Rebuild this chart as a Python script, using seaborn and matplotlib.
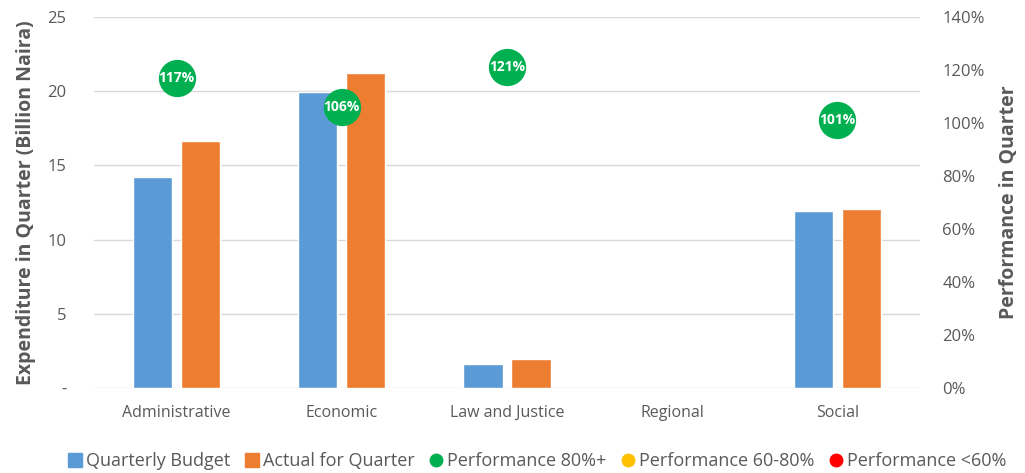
import numpy as np
import pandas as pd
import matplotlib
matplotlib.use("Agg")
import matplotlib.pyplot as plt
import seaborn as sns
from matplotlib.lines import Line2D
from matplotlib.ticker import FuncFormatter

# ── Data ─────────────────────────────────────────────────────
categories = ["Administrative", "Economic", "Law and Justice", "Regional", "Social"]
budget     = [14.2, 19.95, 1.6, 0.0, 11.95]
actual     = [16.65, 21.25, 1.95, 0.0, 12.05]
perf       = [117, 106, 121, np.nan, 101]   # % performance in quarter

BLUE, ORANGE = "#5b9bd5", "#ed7d31"
GREEN, AMBER, RED = "#00b050", "#ffc000", "#ff0000"
GREY = "#595959"

df = pd.DataFrame({
    "Category": categories * 2,
    "Series":   ["Quarterly Budget"] * len(categories) + ["Actual for Quarter"] * len(categories),
    "Value":    budget + actual,
})

sns.set_theme(style="white")
plt.rcParams["font.family"] = ["Open Sans", "DejaVu Sans"]

fig = plt.figure(figsize=(10.25, 4.73), dpi=100)
ax = fig.add_axes([94/1025, 1 - 388/473, (920-94)/1025, (388-17)/473])

sns.barplot(data=df, x="Category", y="Value", hue="Series",
            palette=[BLUE, ORANGE], width=0.58, gap=0.18,
            ax=ax, legend=False, saturation=1)

ax.set_ylim(0, 25)
ax.set_yticks([0, 5, 10, 15, 20, 25])
ax.yaxis.set_major_formatter(FuncFormatter(lambda v, _: "-" if v == 0 else f"{v:.0f}"))
ax.grid(axis="y", color="#d9d9d9", lw=1)
ax.set_axisbelow(True)
ax.set_xlim(-0.5, len(categories) - 0.5)
ax.set_xlabel("")
ax.set_ylabel("Expenditure in Quarter (Billion Naira)", fontsize=14,
              fontweight="bold", color=GREY, labelpad=8)
ax.tick_params(axis="y", colors=GREY, labelsize=12, length=0, pad=20)
ax.tick_params(axis="x", colors=GREY, labelsize=11.5, length=0, pad=12)
for s in ax.spines.values():
    s.set_visible(False)

# ── Performance markers on secondary axis ────────────────────
ax2 = ax.twinx()
ax2.set_ylim(0, 140)
ax2.set_yticks(range(0, 141, 20))
ax2.yaxis.set_major_formatter(FuncFormatter(lambda v, _: f"{v:.0f}%"))
ax2.tick_params(axis="y", colors=GREY, labelsize=12, length=0, pad=16)
ax2.set_ylabel("Performance in Quarter", fontsize=14, fontweight="bold",
               color=GREY, labelpad=10)
for s in ax2.spines.values():
    s.set_visible(False)

def perf_colour(p):
    return GREEN if p >= 80 else (AMBER if p >= 60 else RED)

for i, p in enumerate(perf):
    if np.isnan(p):
        continue
    ax2.scatter(i, p, s=720, color=perf_colour(p), zorder=5, linewidths=0)
    ax2.text(i, p, f"{p:.0f}%", ha="center", va="center", color="white",
             fontsize=10, fontweight="bold", zorder=6)

# ── Legend ───────────────────────────────────────────────────
handles = [
    Line2D([], [], marker="s", ls="", color=BLUE, markersize=10),
    Line2D([], [], marker="s", ls="", color=ORANGE, markersize=10),
    Line2D([], [], marker="o", ls="", color=GREEN, markersize=9),
    Line2D([], [], marker="o", ls="", color=AMBER, markersize=9),
    Line2D([], [], marker="o", ls="", color=RED, markersize=9),
]
labels = ["Quarterly Budget", "Actual for Quarter", "Performance 80%+",
          "Performance 60-80%", "Performance <60%"]
fig.legend(handles, labels, loc="center", bbox_to_anchor=(0.522, 1 - 461/473),
           ncol=5, frameon=False, fontsize=13, handletextpad=0.0,
           columnspacing=0.6, handlelength=1.2, labelcolor=GREY)

fig.savefig("out.png", dpi=100)
